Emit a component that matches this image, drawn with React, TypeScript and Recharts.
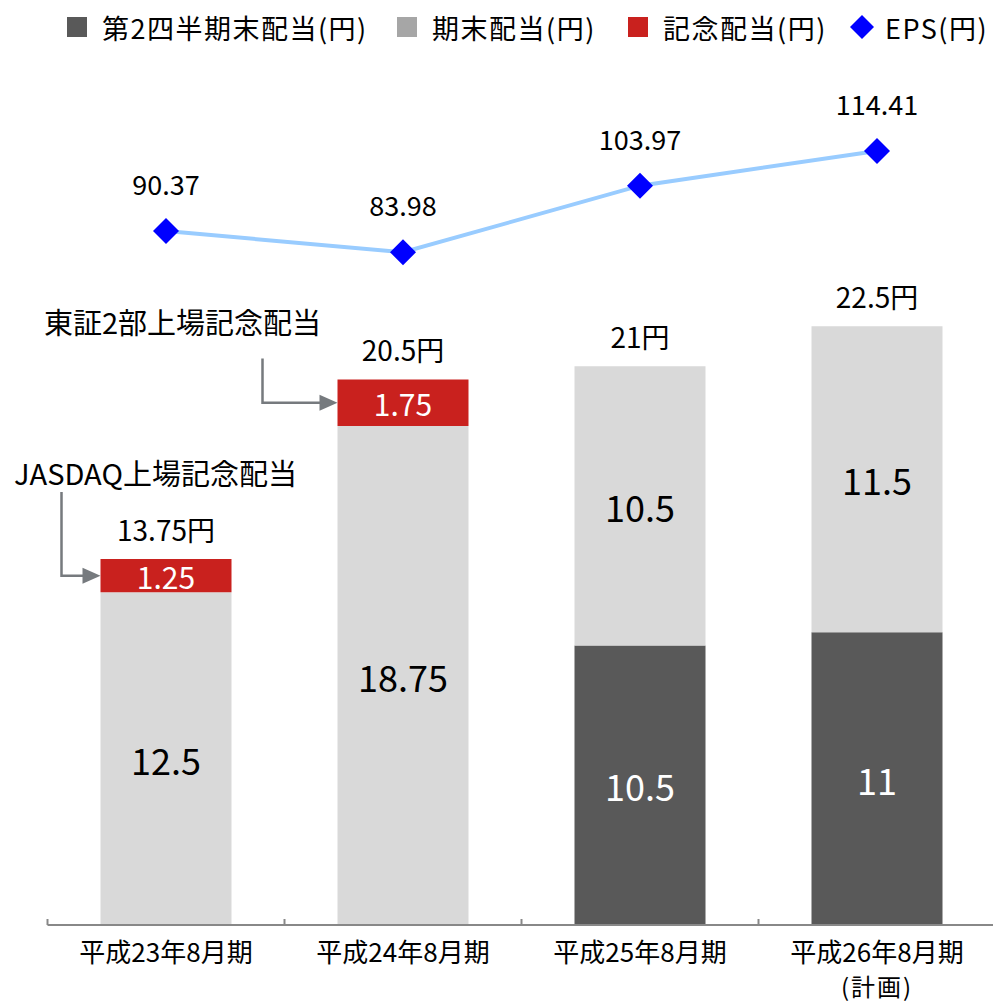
import React from 'react';
import { ComposedChart, Bar, Line, XAxis, YAxis, LabelList } from 'recharts';

// 決算期
const categories = ['平成23年8月期', '平成24年8月期', '平成25年8月期', '平成26年8月期'];
const categoryNotes = ['', '', '', '(計画)'];

// 配当（円）
const interimDividend = [null, null, 10.5, 11];
const yearEndDividend = [12.5, 18.75, 10.5, 11.5];
const commemorativeDividend = [1.25, 1.75, null, null];

// EPS（円）
const eps = [90.37, 83.98, 103.97, 114.41];

// 記念配当の注記
const annotationTexts = ['JASDAQ上場記念配当', '東証2部上場記念配当'];

const seriesNames = ['第2四半期末配当(円)', '期末配当(円)', '記念配当(円)', 'EPS(円)'];

const DARK = '#595959';
const LIGHT = '#D9D9D9';
const RED = '#C9211E';
const EPS_LINE = '#99CCFF';
const EPS_MARK = '#0000FF';
const LEGEND_COLORS = [DARK, '#A6A6A6', RED, EPS_MARK];
const LEGEND_LEFT = [67, 397, 628, 850];
const FONT = '"Noto Sans CJK JP", "Noto Sans", sans-serif';

const CHART_W = 1000;
const CHART_H = 1002;
const MARGIN = { top: 100, right: 4.5, bottom: 0, left: 47.5 };
const BAND = (CHART_W - MARGIN.left - MARGIN.right) / categories.length;

// 注記の配置（棒の左上からの相対位置）
const annotationLayout = [
  { textDx: 55, textDy: -87, lineDx: -39, lineDy: -67 },
  { textDx: -155, textDy: -58, lineDx: -75, lineDy: -21 },
];

const data = categories.map((name, i) => ({
  name,
  interim: interimDividend[i],
  yearEnd: yearEndDividend[i],
  commemorative: commemorativeDividend[i],
  total: (interimDividend[i] ?? 0) + (yearEndDividend[i] ?? 0) + (commemorativeDividend[i] ?? 0),
  eps: eps[i],
}));

const insideLabel = (color: string, size: number) => (props: any) => {
  const { x, y, width, height, value } = props;
  if (value == null || !height) return null;
  return (
    <text
      x={x + width / 2}
      y={y + height / 2}
      fill={color}
      fontSize={size}
      fontFamily={FONT}
      textAnchor="middle"
      dominantBaseline="central"
    >
      {value}
    </text>
  );
};

const totalLabel = (x: number, y: number, width: number, index: number) => (
  <text
    x={x + width / 2}
    y={y - 18}
    fill="#000"
    fontSize={28}
    fontFamily={FONT}
    textAnchor="middle"
  >
    {`${data[index].total}円`}
  </text>
);

const yearEndLabel = (props: any) => {
  const { x, y, width, value, index } = props;
  if (value == null) return null;
  return (
    <g>
      {insideLabel('#000', 36)(props)}
      {data[index].commemorative == null && totalLabel(x, y, width, index)}
    </g>
  );
};

const commemorativeLabel = (props: any) => {
  const { x, y, width, height, value, index } = props;
  if (value == null) return null;
  const lay = annotationLayout[index];
  const midY = y + height / 2;
  return (
    <g>
      {insideLabel('#fff', 30)(props)}
      {totalLabel(x, y, width, index)}
      {lay && (
        <g>
          <text
            x={x + lay.textDx}
            y={y + lay.textDy}
            fontSize={29}
            fontFamily={FONT}
            fill="#000"
            textAnchor="middle"
            dominantBaseline="central"
          >
            {annotationTexts[index]}
          </text>
          <path
            d={`M${x + lay.lineDx},${y + lay.lineDy} V${midY} H${x - 16}`}
            stroke="#767A7E"
            strokeWidth={2.5}
            fill="none"
          />
          <polygon
            points={`${x},${midY} ${x - 18},${midY - 8} ${x - 18},${midY + 8}`}
            fill="#767A7E"
          />
        </g>
      )}
    </g>
  );
};

const EpsDot = (props: any) => {
  const { cx, cy } = props;
  const r = 13;
  return (
    <polygon
      points={`${cx},${cy - r} ${cx + r},${cy} ${cx},${cy + r} ${cx - r},${cy}`}
      fill={EPS_MARK}
    />
  );
};

const epsLabel = (props: any) => {
  const { x, y, value } = props;
  return (
    <text x={x} y={y - 36} fontSize={27} fontFamily={FONT} fill="#000" textAnchor="middle">
      {value}
    </text>
  );
};

const CategoryTick = (props: any) => {
  const { x, y, payload, index } = props;
  const note = categoryNotes[index];
  return (
    <g>
      <line x1={x - BAND / 2} y1={y} x2={x - BAND / 2} y2={y - 6} stroke="#888" strokeWidth={2} />
      <text x={x} y={y + 37} fontSize={26} fontFamily={FONT} fill="#000" textAnchor="middle">
        {payload.value}
      </text>
      {note && (
        <text
          x={x}
          y={y + 71}
          fontSize={24}
          fontFamily={FONT}
          fill="#000"
          textAnchor="middle"
          letterSpacing={2}
        >
          {note}
        </text>
      )}
    </g>
  );
};

const ChartLegend = () => (
  <div style={{ position: 'absolute', top: 0, left: 0, fontFamily: FONT, fontSize: 27, color: '#000' }}>
    {seriesNames.map((name, i) => (
      <div
        key={name}
        style={{
          position: 'absolute',
          left: LEGEND_LEFT[i],
          top: 9,
          height: 36,
          display: 'flex',
          alignItems: 'center',
          whiteSpace: 'nowrap',
        }}
      >
        {i < 3 ? (
          <span style={{ width: 20, height: 20, background: LEGEND_COLORS[i], marginRight: 15 }} />
        ) : (
          <svg width={24} height={24} style={{ marginRight: 11 }}>
            <polygon points="12,0 24,12 12,24 0,12" fill={LEGEND_COLORS[i]} />
          </svg>
        )}
        <span style={{ letterSpacing: 1.5 }}>{name}</span>
      </div>
    ))}
  </div>
);

export default function App() {
  return (
    <div
      style={{
        position: 'absolute',
        left: 0,
        top: 0,
        width: 993,
        height: CHART_H,
        overflow: 'hidden',
        background: '#fff',
      }}
    >
      <ComposedChart width={CHART_W} height={CHART_H} data={data} margin={MARGIN}>
        <XAxis
          dataKey="name"
          height={77}
          interval={0}
          tickLine={false}
          tickSize={0}
          tickMargin={0}
          axisLine={{ stroke: '#888', strokeWidth: 2 }}
          tick={<CategoryTick />}
        />
        <YAxis yAxisId="div" hide domain={[0, 31]} allowDataOverflow />
        <YAxis yAxisId="eps" hide orientation="right" domain={[-118, 129.7]} allowDataOverflow />
        <Bar yAxisId="div" dataKey="interim" stackId="d" fill={DARK} barSize={131} isAnimationActive={false}>
          <LabelList dataKey="interim" content={insideLabel('#fff', 36)} />
        </Bar>
        <Bar yAxisId="div" dataKey="yearEnd" stackId="d" fill={LIGHT} barSize={131} isAnimationActive={false}>
          <LabelList dataKey="yearEnd" content={yearEndLabel} />
        </Bar>
        <Bar yAxisId="div" dataKey="commemorative" stackId="d" fill={RED} barSize={131} isAnimationActive={false}>
          <LabelList dataKey="commemorative" content={commemorativeLabel} />
        </Bar>
        <Line
          yAxisId="eps"
          dataKey="eps"
          stroke={EPS_LINE}
          strokeWidth={4}
          dot={<EpsDot />}
          activeDot={false}
          isAnimationActive={false}
        >
          <LabelList dataKey="eps" content={epsLabel} />
        </Line>
      </ComposedChart>
      <ChartLegend />
    </div>
  );
}
